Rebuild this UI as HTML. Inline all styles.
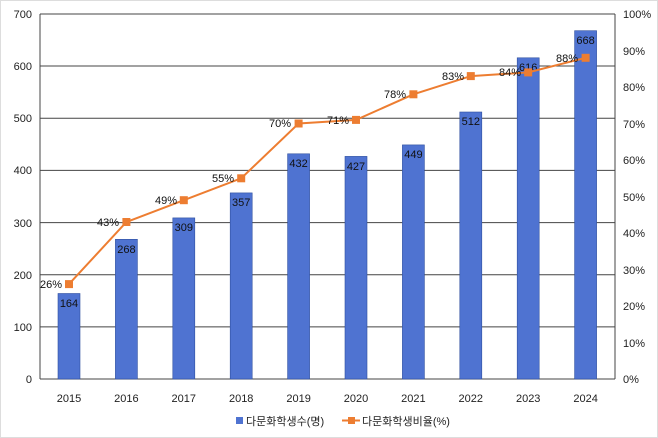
<!DOCTYPE html>
<html><head><meta charset="utf-8"><style>
body{margin:0;background:#fff}
svg{display:block;font-family:"Liberation Sans","Noto Sans CJK KR",sans-serif}
</style></head><body>
<svg width="658" height="438" viewBox="0 0 658 438">
<rect x="0.5" y="0.5" width="657" height="437" fill="#fff" stroke="#ddd"/>
<g stroke="#444" stroke-width="1">
<line x1="40" y1="14" x2="615" y2="14"/>
<line x1="40" y1="66" x2="615" y2="66"/>
<line x1="40" y1="118.3" x2="615" y2="118.3"/>
<line x1="40" y1="170.4" x2="615" y2="170.4"/>
<line x1="40" y1="222.6" x2="615" y2="222.6"/>
<line x1="40" y1="274.7" x2="615" y2="274.7"/>
<line x1="40" y1="326.9" x2="615" y2="326.9"/>
<line x1="40" y1="379" x2="615" y2="379"/>
<line x1="40" y1="14" x2="40" y2="379"/>
<line x1="615" y1="14" x2="615" y2="379"/>
</g>
<g fill="#4f73d1" stroke="#2f4f9f" stroke-width="0.6">
<rect x="58" y="293.5" width="22" height="85.5"/>
<rect x="115.4" y="239.3" width="22" height="139.7"/>
<rect x="172.8" y="217.9" width="22" height="161.1"/>
<rect x="230.2" y="192.9" width="22" height="186.1"/>
<rect x="287.6" y="153.8" width="22" height="225.2"/>
<rect x="345" y="156.4" width="22" height="222.6"/>
<rect x="402.4" y="144.9" width="22" height="234.1"/>
<rect x="459.8" y="112" width="22" height="267"/>
<rect x="517.2" y="57.8" width="22" height="321.2"/>
<rect x="574.6" y="30.7" width="22" height="348.3"/>
</g>
<g font-size="11" fill="#111" text-anchor="middle">
<text x="69" y="307">164</text><text x="126.4" y="253">268</text><text x="183.8" y="231">309</text>
<text x="241.2" y="206">357</text><text x="298.6" y="167">432</text><text x="356" y="170">427</text>
<text x="413.4" y="158">449</text><text x="470.8" y="125">512</text><text x="528.2" y="71">616</text>
<text x="585.6" y="44">668</text>
</g>
<polyline fill="none" stroke="#ed7d31" stroke-width="2" points="69,284.1 126.4,222 183.8,200.2 241.2,178.3 298.6,123.5 356,119.9 413.4,94.3 470.8,76.1 528.2,72.4 585.6,57.8"/>
<g fill="#ed7d31">
<rect x="65" y="280.1" width="8" height="8"/><rect x="122.4" y="218" width="8" height="8"/>
<rect x="179.8" y="196.2" width="8" height="8"/><rect x="237.2" y="174.3" width="8" height="8"/>
<rect x="294.6" y="119.5" width="8" height="8"/><rect x="352" y="115.9" width="8" height="8"/>
<rect x="409.4" y="90.3" width="8" height="8"/><rect x="466.8" y="72.1" width="8" height="8"/>
<rect x="524.2" y="68.4" width="8" height="8"/><rect x="581.6" y="53.8" width="8" height="8"/>
</g>
<g font-size="11" fill="#111" text-anchor="end">
<text x="62" y="288">26%</text><text x="119" y="226">43%</text><text x="177" y="204">49%</text>
<text x="234" y="182">55%</text><text x="291" y="127">70%</text><text x="349" y="124">71%</text>
<text x="406" y="98">78%</text><text x="464" y="80">83%</text><text x="521" y="76">84%</text>
<text x="578" y="62">88%</text>
</g>
<g font-size="11" fill="#222" text-anchor="end">
<text x="32" y="18">700</text><text x="32" y="70">600</text><text x="32" y="122">500</text>
<text x="32" y="174">400</text><text x="32" y="227">300</text><text x="32" y="279">200</text>
<text x="32" y="331">100</text><text x="32" y="383">0</text>
</g>
<g font-size="11" fill="#222" text-anchor="start">
<text x="623" y="18">100%</text><text x="623" y="55">90%</text><text x="623" y="91">80%</text>
<text x="623" y="128">70%</text><text x="623" y="164">60%</text><text x="623" y="201">50%</text>
<text x="623" y="237">40%</text><text x="623" y="274">30%</text><text x="623" y="310">20%</text>
<text x="623" y="347">10%</text><text x="623" y="383">0%</text>
</g>
<g font-size="11" fill="#222" text-anchor="middle">
<text x="69" y="402">2015</text><text x="126.4" y="402">2016</text><text x="183.8" y="402">2017</text>
<text x="241.2" y="402">2018</text><text x="298.6" y="402">2019</text><text x="356" y="402">2020</text>
<text x="413.4" y="402">2021</text><text x="470.8" y="402">2022</text><text x="528.2" y="402">2023</text>
<text x="585.6" y="402">2024</text>
</g>
<rect x="236" y="417" width="7" height="7" fill="#4f73d1"/>
<text x="246" y="425" font-size="11" fill="#222">다문화학생수(명)</text>
<line x1="342" y1="420.5" x2="360" y2="420.5" stroke="#ed7d31" stroke-width="2"/>
<rect x="348" y="417" width="7" height="7" fill="#ed7d31"/>
<text x="362" y="425" font-size="11" fill="#222">다문화학생비율(%)</text>
</svg>
</body></html>
